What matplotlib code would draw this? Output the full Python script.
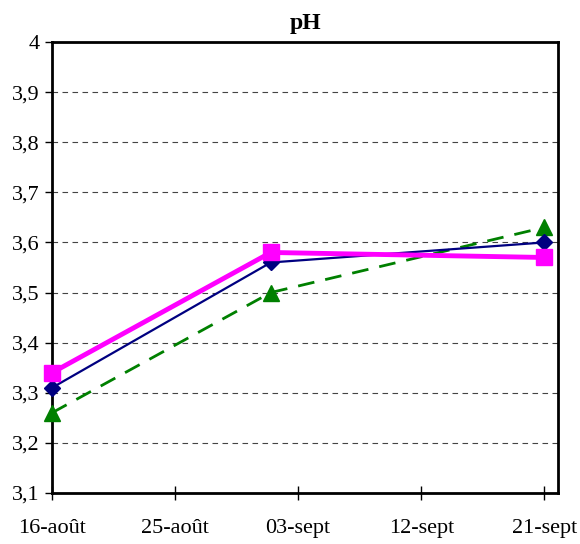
import datetime as dt
import matplotlib
matplotlib.use("Agg")
import matplotlib.pyplot as plt
from matplotlib.ticker import FuncFormatter, MultipleLocator

# --- data ---
dates = [dt.date(2000, 8, 16), dt.date(2000, 9, 1), dt.date(2000, 9, 21)]
ph_blue = [3.31, 3.56, 3.60]
ph_pink = [3.34, 3.58, 3.57]
ph_green = [3.26, 3.50, 3.63]
tick_dates = [dt.date(2000, 8, 16), dt.date(2000, 8, 25), dt.date(2000, 9, 3),
              dt.date(2000, 9, 12), dt.date(2000, 9, 21)]
tick_labels = ["16-août", "25-août", "03-sept", "12-sept", "21-sept"]

plt.rcParams["font.family"] = ["Liberation Serif", "DejaVu Serif"]

fig = plt.figure(figsize=(5.8, 5.44), dpi=100)
ax = fig.add_axes([52 / 580, 1 - 493 / 544, (558 - 52) / 580, (493 - 42) / 544])

# series
ax.plot(dates, ph_green, color="#008000", lw=2, ls=(0, (6, 4)),
        marker="^", ms=12, zorder=3, clip_on=False)
ax.plot(dates, ph_blue, color="#000080", lw=1.6,
        marker="D", ms=8, zorder=4, clip_on=False)
ax.plot(dates, ph_pink, color="#FF00FF", lw=3.5,
        marker="s", ms=11, zorder=5, clip_on=False)

ax.set_xlim(dt.date(2000, 8, 16), dt.date(2000, 9, 22))
ax.set_ylim(3.1, 4.0)

ax.set_xticks(tick_dates)
ax.set_xticklabels(tick_labels, fontsize=16)
ax.yaxis.set_major_locator(MultipleLocator(0.1))
ax.yaxis.set_major_formatter(FuncFormatter(
    lambda v, p: ("%g" % round(v, 1)).replace(".", ",")))
ax.tick_params(axis="y", labelsize=16, direction="out", length=5, width=1, pad=4)
ax.tick_params(axis="x", direction="inout", length=10, width=1, pad=14)

ax.grid(axis="y", color="#444444", ls=(0, (5, 4)), lw=0.8)
ax.set_axisbelow(True)
for s in ax.spines.values():
    s.set_linewidth(2)

ax.set_title("pH", fontsize=17, fontweight="bold", pad=9)

fig.savefig("out.png", dpi=100)
